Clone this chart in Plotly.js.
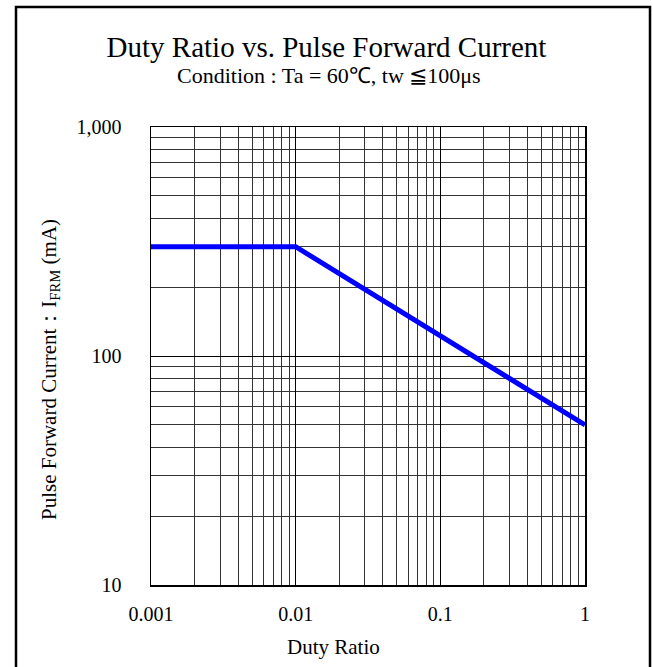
<!DOCTYPE html>
<html>
<head>
<meta charset="utf-8">
<script src="https://cdn.plot.ly/plotly-3.0.1.min.js"></script>
<style>
  html, body { margin: 0; padding: 0; background: #fff; }
  #chart { width: 653px; height: 667px; }
</style>
</head>
<body>
<div id="chart"></div>
<script>
// Data
const dutyRatio = [0.001, 0.01, 1];
const pulseCurrent = [300, 300, 50];

// Tick labels
const xTickVals = [0.001, 0.01, 0.1, 1];
const xTickText = ['0.001', '0.01', '0.1', '1'];
const yTickVals = [10, 100, 1000];
const yTickText = ['10', '100', '1,000'];

// Minor grid positions (2..9 within each decade)
function minorVals(decades) {
  const out = [];
  decades.forEach(d => { for (let k = 2; k <= 9; k++) out.push(d * k); });
  return out;
}
const xMinor = minorVals([0.001, 0.01, 0.1]);
const yMinor = minorVals([10, 100]);

const FONT = 'Liberation Serif, Times New Roman, serif';

// plot area in pixels
const L = 151, R = 585, T = 127, B = 585;
const W = R - L, H = B - T;
const px = x => (x - L) / W;
const py = y => (B - y) / H;

const trace = {
  x: dutyRatio,
  y: pulseCurrent,
  type: 'scatter',
  mode: 'lines',
  line: { color: '#0000ff', width: 5 },
  hoverinfo: 'skip',
  showlegend: false
};

const axisCommon = {
  type: 'log',
  showline: true,
  mirror: true,
  linecolor: '#000',
  linewidth: 1.5,
  showgrid: true,
  gridcolor: '#000',
  gridwidth: 1,
  zeroline: false,
  ticks: '',
  tickmode: 'array',
  tickfont: { family: FONT, size: 20, color: '#000' }
};

const layout = {
  width: 653,
  height: 667,
  margin: { l: L, r: 653 - R, t: T, b: 667 - B },
  paper_bgcolor: '#fff',
  plot_bgcolor: '#fff',
  title: {
    text: 'Duty Ratio vs. Pulse Forward Current',
    font: { family: FONT, size: 29, color: '#000' },
    xref: 'container', x: 0.5, xanchor: 'center',
    yref: 'container', y: 1 - 47 / 667, yanchor: 'middle'
  },
  annotations: [{
    text: 'Condition : Ta = 60℃, tw ≦100μs',
    xref: 'paper', yref: 'paper',
    x: px(329), y: py(76),
    xanchor: 'center', yanchor: 'middle',
    showarrow: false,
    font: { family: FONT, size: 22, color: '#000' }
  }, {
    text: 'Duty Ratio',
    xref: 'paper', yref: 'paper',
    x: px(333), y: py(647),
    xanchor: 'center', yanchor: 'middle',
    showarrow: false,
    font: { family: FONT, size: 21, color: '#000' }
  }, {
    text: 'Pulse Forward Current：I<sub>FRM</sub> (mA)',
    xref: 'paper', yref: 'paper',
    x: px(50), y: py(370),
    xanchor: 'center', yanchor: 'middle',
    textangle: -90,
    showarrow: false,
    font: { family: FONT, size: 21, color: '#000' }
  }],
  xaxis: Object.assign({}, axisCommon, {
    range: [-3, 0],
    tickvals: xTickVals,
    ticktext: xTickText,
    ticklabelstandoff: 10,
    minor: { tickmode: 'array', tickvals: xMinor, showgrid: true, gridcolor: '#333', gridwidth: 1, ticks: '' }
  }),
  yaxis: Object.assign({}, axisCommon, {
    range: [1, 3],
    tickvals: yTickVals,
    ticktext: yTickText,
    ticklabelstandoff: 24,
    minor: { tickmode: 'array', tickvals: yMinor, showgrid: true, gridcolor: '#333', gridwidth: 1, ticks: '' }
  }),
  shapes: [{
    type: 'rect',
    xref: 'paper', yref: 'paper',
    x0: px(16), x1: px(650),
    y0: py(672), y1: py(7),
    line: { color: '#000', width: 2.5 },
    fillcolor: 'rgba(0,0,0,0)',
    layer: 'above'
  }]
};

Plotly.newPlot('chart', [trace], layout, { staticPlot: true, displayModeBar: false });
</script>
</body>
</html>
